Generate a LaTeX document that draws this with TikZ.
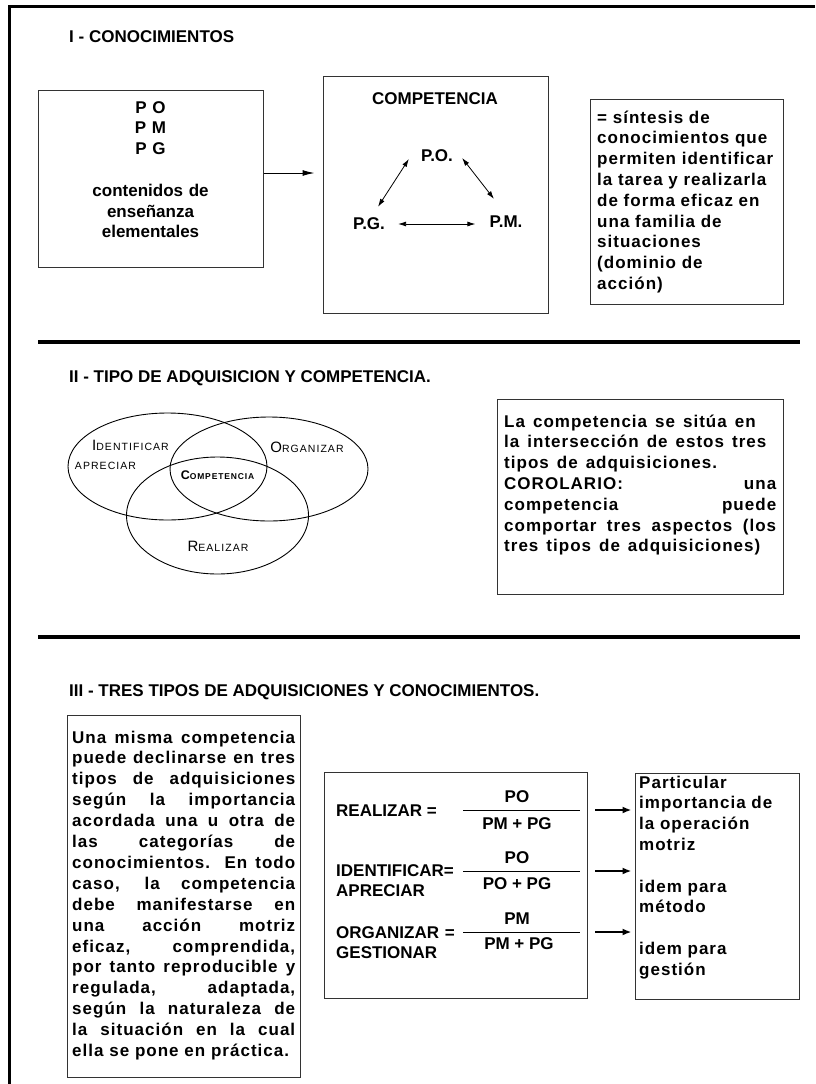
\documentclass[tikz,border=0pt]{standalone}
\usepackage{fontspec}
\setmainfont{Liberation Sans}
\newfontfamily\spaced[LetterSpace=6]{Liberation Sans}
\newfontfamily\vennfont[LetterSpace=10]{Liberation Sans}
\usetikzlibrary{arrows.meta,fit}

\newcommand\fakesc[2]{{\fontsize{15}{16}\selectfont #1}{\fontsize{10.5}{12}\selectfont #2}}

\tikzset{
  box/.style={draw=black!80, line width=1pt, inner sep=0pt},
  txt/.style={inner sep=0pt, font=\bfseries\fontsize{17}{20.8}\selectfont},
  para/.style={inner sep=0pt, anchor=base west, font=\spaced\bfseries\fontsize{17}{20.8}\selectfont},
  venn/.style={inner sep=0pt, font=\vennfont},
  rule/.style={line width=3.5pt},
}

\begin{document}
\begin{tikzpicture}[x=1pt,y=-1pt,>={Latex[length=8pt,width=5pt]}]
\useasboundingbox (0,0) rectangle (815,1084);
\draw[line width=3pt] (9,1084) -- (9,6.5) -- (815,6.5);
\draw[rule] (38,342) -- (800,342);
\draw[rule] (38,637) -- (800,637);

% I - conocimientos
\node[txt, anchor=base west] (titI) at (69,42) {I - CONOCIMIENTOS};
\node[box, fit={(38,90) (263,267)}] (conten) {};
\node[txt, anchor=base, text width=225pt, align=center] (contenT) at (150.5,113)
	{P O\\P M\\P G\\[20.8pt]contenidos de\\enseñanza\\elementales};
\node[box, fit={(323,76) (548,313)}] (compet) {};
\node[txt] (competT) at (435,99) {COMPETENCIA};
\node[txt] (po) at (437,156) {P.O.};
\node[txt] (pg) at (369,224) {P.G.};
\node[txt] (pm) at (506,222) {P.M.};
\draw[<->, line width=0.8pt] ([xshift=9pt,yshift=11pt]pg.north) -- ([xshift=-12pt,yshift=-3pt]po.west);
\draw[<->, line width=0.8pt] ([xshift=9pt,yshift=-2pt]po.east) -- ([xshift=-12pt,yshift=17pt]pm.north);
\draw[<->, line width=0.8pt, shorten <=13pt, shorten >=14pt] (pg.east) -- (pg.east -| pm.west);
\draw[->, line width=1pt, >={Latex[length=12pt,width=6pt]}, shorten >=8pt]
	([yshift=5.5pt]conten.east) -- ([yshift=5.5pt]conten.east -| compet.west);
\node[box, fit={(590,99) (783,304)}] (sintesis) {};
\node[para, text width=184pt, align=left] (sintesisT) at (597,123)
	{= síntesis de\\conocimientos que\\permiten identificar\\la tarea y realizarla\\de forma eficaz en\\una familia de\\situaciones\\(dominio de\\acción)};

% II - tipo de adquisicion
\node[txt, anchor=base west] (titII) at (69,382) {II - TIPO DE ADQUISICION Y COMPETENCIA.};
\draw[line width=0.9pt] (167.5,466.5) ellipse [x radius=99.5, y radius=53.5];
\draw[line width=0.9pt] (269,469) ellipse [x radius=99, y radius=52];
\draw[line width=0.9pt] (217.5,515.5) ellipse [x radius=91, y radius=58.5];
\node[venn] (identif) at (130.5,445) {\fakesc{I}{DENTIFICAR}};
\node[venn] (aprec) at (105.5,466) {\fontsize{10.5}{12}\selectfont APRECIAR};
\node[venn] (organ) at (307,447) {\fakesc{O}{RGANIZAR}};
\node[venn, font=\vennfont\bfseries] (compV) at (217.5,475)
	{{\fontsize{12.5}{13}\selectfont C}{\fontsize{8.5}{10}\selectfont OMPETENCIA}};
\node[venn] (realiz) at (218,546) {\fakesc{R}{EALIZAR}};
\node[box, fit={(497,399) (783,594)}] (inter) {};
\node[para, text width=272pt, align=justify] (interT) at (504,427)
	{\spaceskip=8pt plus 20pt La competencia se sitúa en\\la intersección de estos tres\\tipos de adquisiciones.\par
	\parfillskip=0pt plus 1fil COROLARIO: una\linebreak competencia puede\linebreak
	comportar tres aspectos (los\linebreak tres tipos de adquisiciones)};

% III - tres tipos
\node[txt, anchor=base west] (titIII) at (69,696) {III - TRES TIPOS DE ADQUISICIONES Y CONOCIMIENTOS.};
\node[box, fit={(67,715) (300,1077)}] (declin) {};
\node[para, text width=223pt, align=justify, font=\spaced\bfseries\fontsize{17}{20.9}\selectfont] (declinT) at (72,743)
	{\parfillskip=0pt Una misma competencia\linebreak puede declinarse en tres\linebreak
	tipos de adquisiciones\linebreak según la importancia\linebreak
	acordada una u otra de\linebreak las categorías de\linebreak
	conocimientos. En todo\linebreak caso, la competencia\linebreak
	debe manifestarse en\linebreak una acción motriz\linebreak
	eficaz, comprendida,\linebreak por tanto reproducible y\linebreak
	regulada, adaptada,\linebreak según la naturaleza de\linebreak
	la situación en la cual\linebreak ella se pone en práctica.};

\node[box, fit={(324,772) (587,998)}] (formul) {};
\node[txt, anchor=base west] (realizar) at (336,816) {REALIZAR =};
\node[txt, anchor=base west, text width=125pt, align=left] (identificar) at (336,876) {IDENTIFICAR=\\APRECIAR};
\node[txt, anchor=base west, text width=125pt, align=left] (organizar) at (336,938) {ORGANIZAR =\\GESTIONAR};
\coordinate (f1l) at (463,810);
\coordinate (f1r) at (580,810);
\coordinate (f2l) at (463,871);
\coordinate (f2r) at (580,871);
\coordinate (f3l) at (463,932);
\coordinate (f3r) at (580,932);
\draw[line width=0.9pt] (f1l) -- (f1r);
\draw[line width=0.9pt] (f2l) -- (f2r);
\draw[line width=0.9pt] (f3l) -- (f3r);
\node[txt, anchor=base] (num1) at (517,802) {PO};
\node[txt, anchor=base] (den1) at (517,829) {PM + PG};
\node[txt, anchor=base] (num2) at (517,863) {PO};
\node[txt, anchor=base] (den2) at (517,889) {PO + PG};
\node[txt, anchor=base] (num3) at (517,924) {PM};
\node[txt, anchor=base] (den3) at (519,949) {PM + PG};

\node[box, fit={(635,773) (799,999)}] (partic) {};
\node[para, text width=155pt, align=left] (particT) at (639,788)
	{Particular\\importancia de\\la operación\\motriz\\[20.8pt]idem para\\método\\[20.8pt]idem para\\gestión};
\draw[->, line width=2.5pt, >={Latex[length=9pt,width=7pt]}, shorten <=15pt, shorten >=3pt] (f1r) -- (f1r -| partic.west);
\draw[->, line width=2.5pt, >={Latex[length=9pt,width=7pt]}, shorten <=15pt, shorten >=3pt] (f2r) -- (f2r -| partic.west);
\draw[->, line width=2.5pt, >={Latex[length=9pt,width=7pt]}, shorten <=15pt, shorten >=3pt] (f3r) -- (f3r -| partic.west);

\end{tikzpicture}
\end{document}
